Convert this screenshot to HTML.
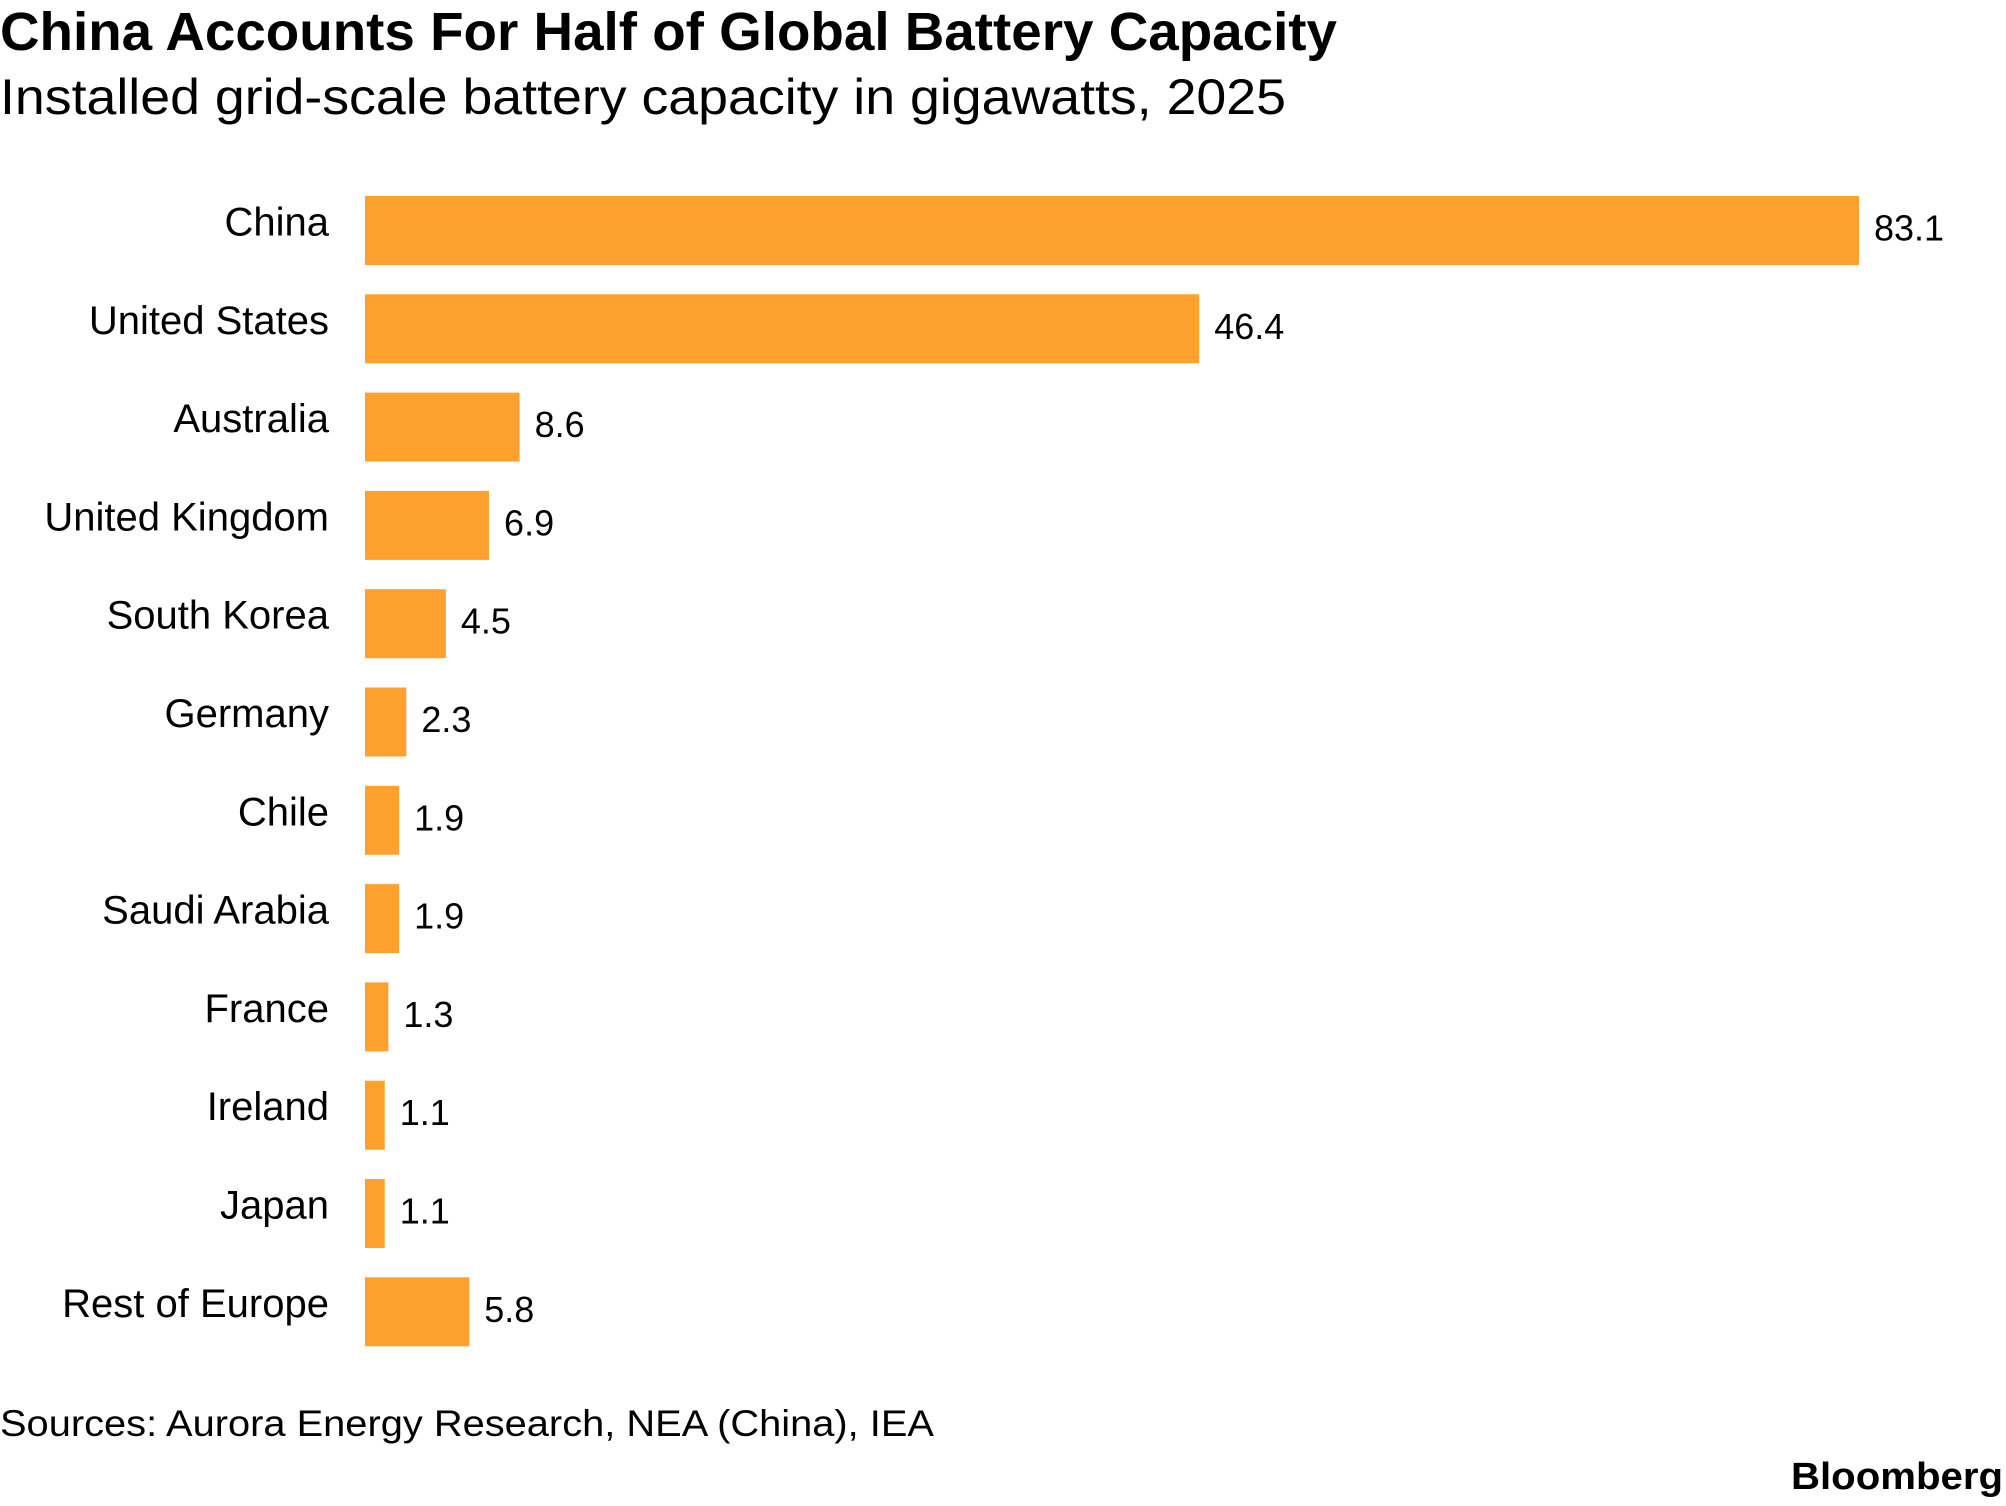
<!DOCTYPE html>
<html><head><meta charset="utf-8"><style>
html,body{margin:0;padding:0;background:#fff;}
svg{display:block;font-family:"Liberation Sans",Arial,sans-serif;}
</style></head><body>
<svg id="chart" width="2006" height="1506" viewBox="0 0 2006 1506">
<text x="0" y="50" font-size="54" font-weight="bold" fill="#000" textLength="1337" lengthAdjust="spacingAndGlyphs">China Accounts For Half of Global Battery Capacity</text>
<text x="0" y="114" font-size="50" fill="#000" textLength="1286" lengthAdjust="spacingAndGlyphs">Installed grid-scale battery capacity in gigawatts, 2025</text>
<g id="bars"></g>
<text x="0" y="1436" font-size="37" fill="#000" textLength="934" lengthAdjust="spacingAndGlyphs">Sources: Aurora Energy Research, NEA (China), IEA</text>
<text x="2003" y="1489" font-size="38" font-weight="bold" fill="#000" text-anchor="end" textLength="212" lengthAdjust="spacingAndGlyphs">Bloomberg</text>
</svg>
<script>
const categories = ["China","United States","Australia","United Kingdom","South Korea","Germany","Chile","Saudi Arabia","France","Ireland","Japan","Rest of Europe"];
const values = [83.1,46.4,8.6,6.9,4.5,2.3,1.9,1.9,1.3,1.1,1.1,5.8];
const valueLabels = ["83.1","46.4","8.6","6.9","4.5","2.3","1.9","1.9","1.3","1.1","1.1","5.8"];

const x0 = 365, pxPerUnit = (1859 - 365) / 83.1;
const xScale = v => x0 + v * pxPerUnit;
const yTop = 196, pitch = 98.3, barH = 69;
const yScale = i => yTop + i * pitch;
const ns = "http://www.w3.org/2000/svg";
const g = document.getElementById("bars");
categories.forEach((c, i) => {
  const y = yScale(i);
  const r = document.createElementNS(ns, "rect");
  r.setAttribute("x", x0);
  r.setAttribute("y", y);
  r.setAttribute("width", xScale(values[i]) - x0);
  r.setAttribute("height", barH);
  r.setAttribute("fill", "#FFA12E");
  
  
  g.appendChild(r);
  const t = document.createElementNS(ns, "text");
  t.setAttribute("x", 329);
  t.setAttribute("y", y + barH / 2 + 5);
  t.setAttribute("font-size", "40");
  t.setAttribute("text-anchor", "end");
  t.textContent = c;
  
  
  g.appendChild(t);
  const v = document.createElementNS(ns, "text");
  v.setAttribute("x", xScale(values[i]) + 15);
  v.setAttribute("y", y + barH / 2 + 10);
  v.setAttribute("font-size", "36");
  v.textContent = valueLabels[i];
  
  
  g.appendChild(v);
});
</script>
</body></html>
